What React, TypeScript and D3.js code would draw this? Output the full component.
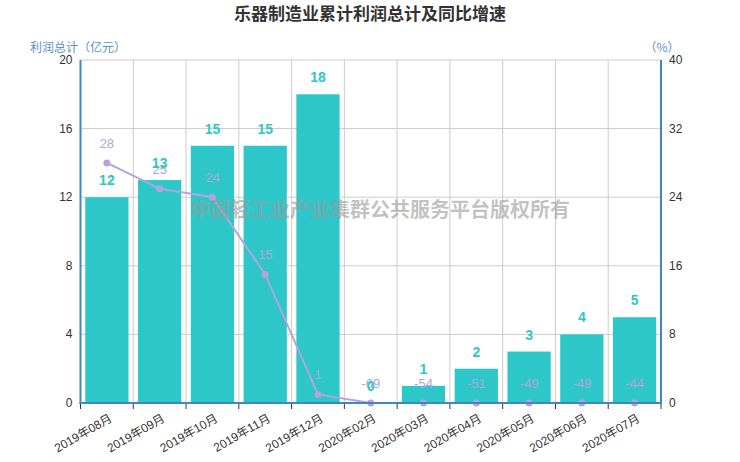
import React, { useEffect, useRef } from 'react';
import * as d3 from 'd3';

const categories = [
  '2019年08月', '2019年09月', '2019年10月', '2019年11月', '2019年12月',
  '2020年02月', '2020年03月', '2020年04月', '2020年05月', '2020年06月', '2020年07月',
];
const profit = [12, 13, 15, 15, 18, 0, 1, 2, 3, 4, 5];
const growth = [28, 25, 24, 15, 1, -69, -54, -51, -49, -49, -44];
const leftTicks = [0, 4, 8, 12, 16, 20];
const rightTicks = [0, 8, 16, 24, 32, 40];

const W = 740;
const H = 462;

const App = () => {
  const svgRef = useRef<SVGSVGElement | null>(null);

  useEffect(() => {
    if (!svgRef.current) return;
    const svg = d3.select(svgRef.current);
    svg.selectAll('*').remove();

    const left = 80.5;
    const right = 661;
    const top = 60;
    const bottom = 403;
    const font = '"Liberation Sans", Arial, "Noto Sans CJK SC", sans-serif';
    const cjk = '"Noto Sans CJK SC", sans-serif';

    const x = d3.scaleBand().domain(categories).range([left, right]).paddingInner(0.18).paddingOuter(0.09);
    const step = (right - left) / categories.length;
    const yL = d3.scaleLinear().domain([0, 20]).range([bottom, top]);
    const yR = d3.scaleLinear().domain([0, 40]).range([bottom, top]).clamp(true);

    // title
    svg.append('text')
      .attr('x', 370).attr('y', 20)
      .attr('text-anchor', 'middle')
      .style('font-family', cjk).style('font-size', '17px').style('font-weight', 'bold')
      .style('fill', '#333')
      .text('乐器制造业累计利润总计及同比增速');

    // grid
    const grid = svg.append('g');
    grid.selectAll('line.h').data(leftTicks.filter(t => t > 0)).join('line')
      .attr('x1', left).attr('x2', right)
      .attr('y1', d => yL(d)).attr('y2', d => yL(d))
      .attr('stroke', '#ccc');
    grid.selectAll('line.v').data(d3.range(1, categories.length)).join('line')
      .attr('x1', d => left + d * step).attr('x2', d => left + d * step)
      .attr('y1', top).attr('y2', bottom)
      .attr('stroke', '#ccc');

    // bars
    svg.append('g').selectAll('rect').data(profit).join('rect')
      .attr('x', (d, i) => x(categories[i])!)
      .attr('width', x.bandwidth())
      .attr('y', d => yL(d))
      .attr('height', d => bottom - yL(d))
      .attr('fill', '#2ec7c9');

    // line
    const pts = growth.map((v, i) => [x(categories[i])! + x.bandwidth() / 2, yR(v)] as [number, number]);
    svg.append('path')
      .datum(pts)
      .attr('d', d3.line())
      .attr('fill', 'none')
      .attr('stroke', '#b6a2de')
      .attr('stroke-width', 2);
    svg.append('g').selectAll('circle').data(pts).join('circle')
      .attr('cx', d => d[0]).attr('cy', d => d[1]).attr('r', 3.5)
      .attr('fill', '#b6a2de');

    // line labels
    svg.append('g').selectAll('text').data(growth).join('text')
      .attr('x', (d, i) => pts[i][0])
      .attr('y', (d, i) => pts[i][1] - 15)
      .attr('text-anchor', 'middle')
      .style('font-family', font).style('font-size', '13px')
      .style('fill', '#b6a2de')
      .text(d => d);

    // bar labels
    svg.append('g').selectAll('text').data(profit).join('text')
      .attr('x', (d, i) => x(categories[i])! + x.bandwidth() / 2)
      .attr('y', d => yL(d) - 12)
      .attr('text-anchor', 'middle')
      .style('font-family', font).style('font-size', '14px').style('font-weight', 'bold')
      .style('fill', '#2ec7c9')
      .text(d => d);

    // axes
    const axisColor = '#3f86c3';
    svg.append('line').attr('x1', left).attr('x2', left).attr('y1', top).attr('y2', bottom + 1)
      .attr('stroke', axisColor).attr('stroke-width', 2);
    svg.append('line').attr('x1', right).attr('x2', right).attr('y1', top).attr('y2', bottom + 1)
      .attr('stroke', axisColor).attr('stroke-width', 2);
    svg.append('line').attr('x1', left - 1).attr('x2', right + 1).attr('y1', bottom).attr('y2', bottom)
      .attr('stroke', axisColor).attr('stroke-width', 2);

    svg.append('g').selectAll('line').data(d3.range(0, categories.length + 1)).join('line')
      .attr('x1', d => left + d * step).attr('x2', d => left + d * step)
      .attr('y1', bottom + 1).attr('y2', bottom + 6)
      .attr('stroke', '#333');

    svg.append('g').selectAll('text').data(leftTicks).join('text')
      .attr('x', left - 8).attr('y', d => yL(d) + 4)
      .attr('text-anchor', 'end')
      .style('font-family', font).style('font-size', '12px').style('fill', '#333')
      .text(d => d);
    svg.append('g').selectAll('text').data(rightTicks).join('text')
      .attr('x', right + 8).attr('y', d => yR(d) + 4)
      .attr('text-anchor', 'start')
      .style('font-family', font).style('font-size', '12px').style('fill', '#333')
      .text(d => d);

    svg.append('g').selectAll('text').data(categories).join('text')
      .attr('transform', d => `translate(${x(d)! + x.bandwidth() / 2 + 4},${bottom + 14}) rotate(-30)`)
      .attr('text-anchor', 'end')
      .attr('dy', '0.35em')
      .style('font-family', font).style('font-size', '12px').style('fill', '#333')
      .text(d => d);

    // axis names
    svg.append('text').attr('x', 78).attr('y', 52).attr('text-anchor', 'middle')
      .style('font-family', cjk).style('font-size', '12px').style('fill', '#5b93c7')
      .text('利润总计（亿元）');
    svg.append('text').attr('x', 662).attr('y', 52).attr('text-anchor', 'middle')
      .style('font-family', cjk).style('font-size', '12px').style('fill', '#5b93c7')
      .text('（%）');

    // watermark
    svg.append('text').attr('x', 380).attr('y', 217).attr('text-anchor', 'middle')
      .style('font-family', cjk).style('font-size', '20px').style('font-weight', 'bold')
      .style('fill', '#999').style('fill-opacity', 0.6)
      .text('中国轻工业产业集群公共服务平台版权所有');
  }, []);

  return (
    <svg ref={svgRef} width={W} height={H}
      style={{ position: 'absolute', left: 0, top: 0, background: '#fff' }} />
  );
};

export default App;
